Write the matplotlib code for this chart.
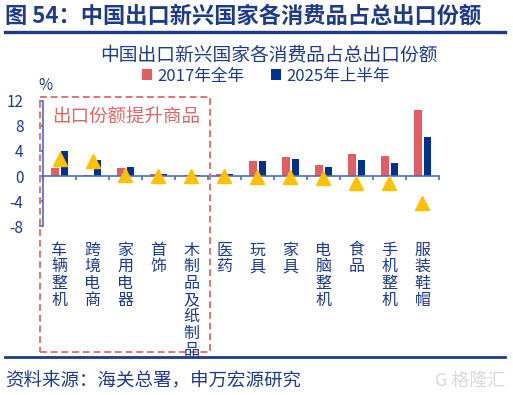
import matplotlib.pyplot as plt
import matplotlib.transforms as mtransforms
from matplotlib.patches import Rectangle
from matplotlib.lines import Line2D

plt.rcParams['font.family'] = ['Noto Sans CJK SC', 'DejaVu Sans']
plt.rcParams['axes.unicode_minus'] = False

categories = ["车辆整机", "跨境电商", "家用电器", "首饰", "木制品及纸制品", "医药",
              "玩具", "家具", "电脑整机", "食品", "手机整机", "服装鞋帽"]
share_2017 = [1.3, 0.15, 1.3, 0.3, 0.1, 0.25, 2.4, 3.0, 1.75, 3.5, 3.2, 10.5]
share_2025h1 = [4.0, 2.55, 1.5, 0.3, 0.1, 0.25, 2.35, 2.75, 1.5, 2.5, 2.1, 6.25]
share_change = [2.65, 2.35, 0.15, 0.0, 0.0, 0.0, -0.1, -0.2, -0.25, -1.05, -1.05, -4.25]
yticks = [-8, -4, 0, 4, 8, 12]

NAVY = "#1F3A8A"
RED = "#E35D63"
BLUE = "#00318F"
GOLD = "#FFC000"
AXIS = "#4A6FBF"

W, H = 513, 395
fig = plt.figure(figsize=(W / 100, H / 100), dpi=100)


def fx(px):
    return px / W


def fy(py):
    return 1 - py / H


# plot area: x 43..439 px, y=12 at 100.7 px, y=-8 at 226.3 px
ax = fig.add_axes([fx(43), fy(226.3), fx(439 - 43), (226.3 - 100.7) / H])
x = list(range(len(categories)))
ax.bar([i - 0.14 for i in x], share_2017, width=0.23, color=RED, label="2017年全年", zorder=2)
ax.bar([i + 0.15 for i in x], share_2025h1, width=0.23, color=BLUE, label="2025年上半年", zorder=2)
ax.plot(x, share_change, linestyle="none", marker="^", markersize=10.5, color=GOLD, zorder=3)

ax.set_xlim(-0.5, len(categories) - 0.5)
ax.set_ylim(-8, 12)
ax.set_yticks(yticks)
ax.set_yticklabels([str(v) for v in yticks])
ax.set_xticks([i - 0.5 for i in range(len(categories) + 1)])
ax.set_xticklabels([])
for s in ["top", "right"]:
    ax.spines[s].set_visible(False)
ax.spines["bottom"].set_position(("data", 0))
ax.spines["bottom"].set_color(AXIS)
ax.spines["left"].set_color(AXIS)
ax.spines["bottom"].set_linewidth(1.2)
ax.spines["left"].set_linewidth(1.2)
ax.tick_params(axis="x", direction="out", length=3, color=AXIS, width=1.2)
ax.tick_params(axis="y", direction="out", length=3, color=AXIS, width=1.2,
               labelsize=11, labelcolor=NAVY, pad=11)
ax.patch.set_alpha(0)

# category labels, one character per line
trans = mtransforms.blended_transform_factory(ax.transData, fig.transFigure)
for i, name in enumerate(categories):
    for k, ch in enumerate(name):
        fig.text(i, fy(250 + k * 16.7), ch, transform=trans, ha="center", va="center",
                 fontsize=11.5, color=NAVY)

fig.text(fx(45), fy(86), "%", fontsize=11, color=NAVY, ha="center", va="center")

# highlighted box
fig.patches.append(Rectangle((fx(40), fy(352)), fx(210 - 40), (352 - 97) / H,
                             transform=fig.transFigure, fill=False, edgecolor="#E57373",
                             linestyle=(0, (3.5, 2)), linewidth=1.4))
fig.text(fx(52), fy(118), "出口份额提升商品", fontsize=13.3, color="#E06666", va="center")

# titles and legend
fig.text(fx(268.5), fy(55), "中国出口新兴国家各消费品占总出口份额", fontsize=13.5,
         color=NAVY, ha="center", va="center")
fig.legend(loc="center", bbox_to_anchor=(fx(266), fy(76)), ncol=2, frameon=False,
           fontsize=12, handlelength=0.6, handleheight=0.6, handletextpad=0.3,
           columnspacing=1.6, labelcolor=NAVY)

fig.text(fx(5), fy(16), "图 54：中国出口新兴国家各消费品占总出口份额", fontsize=16,
         fontweight="bold", color=NAVY, va="center")
fig.add_artist(Line2D([fx(5), fx(505)], [fy(32), fy(32)], transform=fig.transFigure,
                      color=NAVY, linewidth=2.4))
fig.add_artist(Line2D([fx(5), fx(505)], [fy(357), fy(357)], transform=fig.transFigure,
                      color=NAVY, linewidth=2.0, zorder=5))
fig.text(fx(5), fy(381), "资料来源：海关总署，申万宏源研究", fontsize=13.3, color=NAVY, va="center")
fig.text(fx(505), fy(381), "G 格隆汇", fontsize=13, color="#D9D9D9", ha="right", va="center")

fig.savefig("out.png", dpi=100)
